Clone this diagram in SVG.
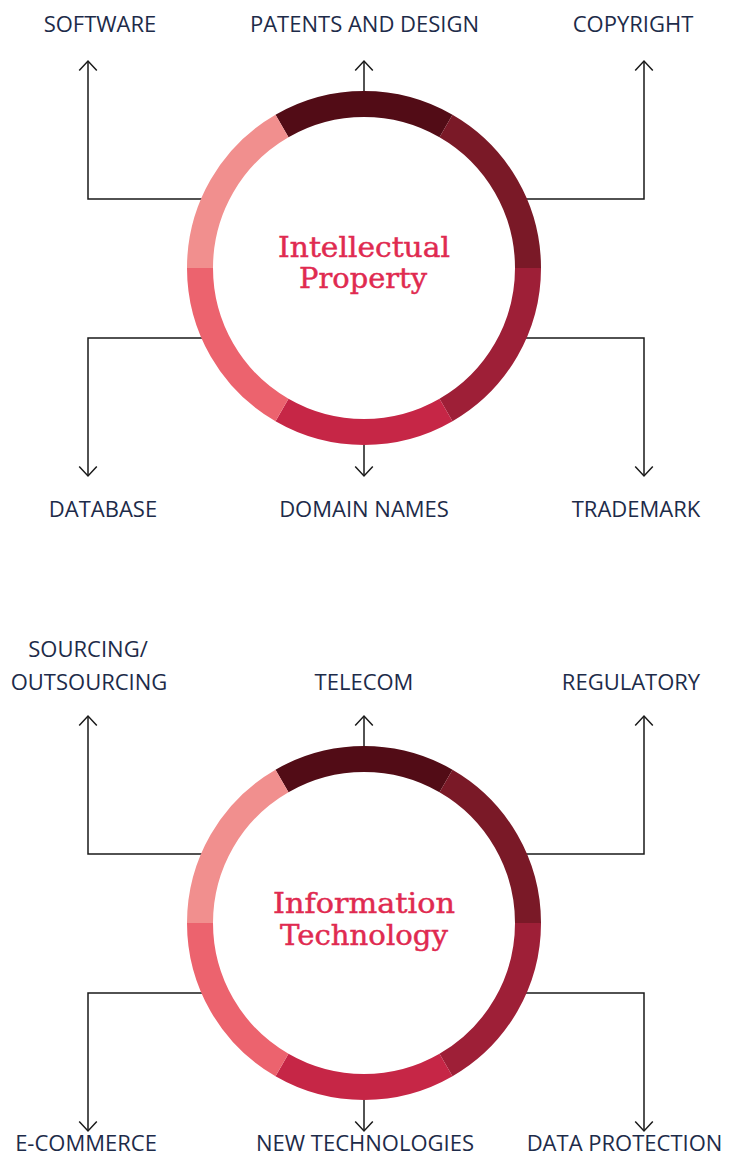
<svg xmlns="http://www.w3.org/2000/svg" width="732" height="1158" viewBox="0 0 732 1158">
  <style>
    .lbl { font-family: "Open Sans", "Noto Sans", "Liberation Sans", sans-serif; font-size: 22px; fill: #1d2b49; text-anchor: middle; }
    .hub { font-family: "DejaVu Serif", "Liberation Serif", serif; font-size: 27px; fill: #e02a50; stroke: #e02a50; stroke-width: 0.45; text-anchor: middle; }
    .conn { fill: none; stroke: #1a1a1a; stroke-width: 1.5; marker-end: url(#arrow); }
    .seg { fill: none; stroke-width: 26; stroke-linecap: butt; }
    .s1 { stroke: #520c16; }
    .s2 { stroke: #7a1927; }
    .s3 { stroke: #9e1f37; }
    .s4 { stroke: #c62646; }
    .s5 { stroke: #ec636e; }
    .s6 { stroke: #f18f8e; }
  </style>
  <defs>
    <marker id="arrow" viewBox="-12 -11 14 22" refX="0" refY="0" markerWidth="14" markerHeight="22" markerUnits="userSpaceOnUse" orient="auto">
      <path d="M-9.5,-8.8 L0,0 L-9.5,8.8" fill="none" stroke="#1a1a1a" stroke-width="1.5"/>
    </marker>
    <g id="ring">
      <path class="seg s1" d="M282,125.97 A164,164 0 0 1 446,125.97"/>
      <path class="seg s2" d="M446,125.97 A164,164 0 0 1 528,268"/>
      <path class="seg s3" d="M528,268 A164,164 0 0 1 446,410.03"/>
      <path class="seg s4" d="M446,410.03 A164,164 0 0 1 282,410.03"/>
      <path class="seg s5" d="M282,410.03 A164,164 0 0 1 200,268"/>
      <path class="seg s6" d="M200,268 A164,164 0 0 1 282,125.97"/>
    </g>
  </defs>

  <g id="connectors">
    <path class="conn" d="M205,199 H88 V61"/>
    <path class="conn" d="M364,100 V61"/>
    <path class="conn" d="M523,199 H644 V61"/>
    <path class="conn" d="M205,338 H88 V476"/>
    <path class="conn" d="M364,436 V476"/>
    <path class="conn" d="M523,338 H644 V476"/>
    <path class="conn" d="M205,854 H88 V716"/>
    <path class="conn" d="M364,755 V716"/>
    <path class="conn" d="M523,854 H644 V716"/>
    <path class="conn" d="M205,993 H88 V1131"/>
    <path class="conn" d="M364,1091 V1131"/>
    <path class="conn" d="M523,993 H644 V1131"/>
  </g>

  <g id="hub-intellectual-property">
    <use href="#ring"/>
    <text class="hub" x="364" y="256.7" textLength="172" lengthAdjust="spacingAndGlyphs">Intellectual</text>
    <text class="hub" x="363" y="288.3" textLength="128" lengthAdjust="spacingAndGlyphs">Property</text>
  </g>

  <g id="hub-information-technology">
    <use href="#ring" transform="translate(0,655)"/>
    <text class="hub" x="364" y="912.5" textLength="182" lengthAdjust="spacingAndGlyphs">Information</text>
    <text class="hub" x="364" y="944.5" textLength="168" lengthAdjust="spacingAndGlyphs">Technology</text>
  </g>

  <g id="software"><text class="lbl" x="100" y="32">SOFTWARE</text></g>
  <g id="patents-and-design"><text class="lbl" x="364.5" y="32">PATENTS AND DESIGN</text></g>
  <g id="copyright"><text class="lbl" x="633" y="32">COPYRIGHT</text></g>
  <g id="database"><text class="lbl" x="103" y="517">DATABASE</text></g>
  <g id="domain-names"><text class="lbl" x="364" y="517">DOMAIN NAMES</text></g>
  <g id="trademark"><text class="lbl" x="636" y="517">TRADEMARK</text></g>

  <g id="sourcing-outsourcing">
    <text class="lbl" x="88" y="656.7">SOURCING/</text>
    <text class="lbl" x="89" y="690">OUTSOURCING</text>
  </g>
  <g id="telecom"><text class="lbl" x="364" y="690">TELECOM</text></g>
  <g id="regulatory"><text class="lbl" x="631" y="690">REGULATORY</text></g>
  <g id="e-commerce"><text class="lbl" x="86" y="1151">E-COMMERCE</text></g>
  <g id="new-technologies"><text class="lbl" x="365" y="1151">NEW TECHNOLOGIES</text></g>
  <g id="data-protection"><text class="lbl" x="624.5" y="1151">DATA PROTECTION</text></g>
</svg>
